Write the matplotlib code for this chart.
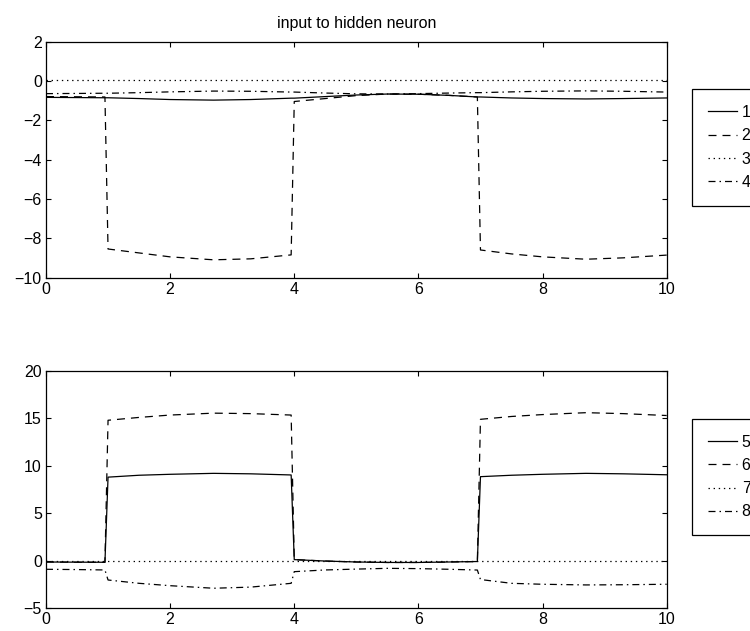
import numpy as np
import matplotlib
matplotlib.use("Agg")
import matplotlib.pyplot as plt

plt.rcParams['font.family'] = ['Liberation Sans', 'DejaVu Sans']
plt.rcParams['font.size'] = 11.5

# time samples (s); pairs like 0.95/1.0 mark the switching instants
t = [0, 0.5, 0.95, 1.0, 1.5, 2.0, 2.7, 3.3, 3.95, 4.0, 4.5,
     5.0, 5.5, 6.0, 6.5, 6.95, 7.0, 7.5, 8.0, 8.7, 9.3, 10.0]

# first hidden layer inputs, neurons 1-4
n1 = [-0.84, -0.85, -0.86, -0.86, -0.90, -0.95, -0.98, -0.95, -0.88, -0.88, -0.80,
      -0.72, -0.67, -0.68, -0.74, -0.82, -0.82, -0.87, -0.90, -0.92, -0.90, -0.87]
n2 = [-0.80, -0.81, -0.82, -8.55, -8.75, -8.95, -9.10, -9.05, -8.85, -1.05, -0.90,
      -0.75, -0.67, -0.68, -0.74, -0.82, -8.60, -8.80, -8.95, -9.07, -9.00, -8.86]
n3 = [0.05] * len(t)
n4 = [-0.65, -0.64, -0.63, -0.63, -0.60, -0.56, -0.52, -0.53, -0.57, -0.57, -0.62,
      -0.66, -0.67, -0.65, -0.62, -0.60, -0.60, -0.56, -0.53, -0.51, -0.53, -0.57]

# neurons 5-8
n5 = [-0.15, -0.17, -0.18, 8.80, 9.00, 9.10, 9.20, 9.15, 9.03, 0.10, -0.05,
      -0.15, -0.20, -0.20, -0.15, -0.10, 8.85, 9.00, 9.10, 9.20, 9.15, 9.05]
n6 = [-0.15, -0.17, -0.18, 14.80, 15.10, 15.35, 15.55, 15.50, 15.35, 0.10, -0.05,
      -0.15, -0.20, -0.20, -0.15, -0.10, 14.90, 15.20, 15.40, 15.60, 15.50, 15.30]
n7 = [0.0] * len(t)
n8 = [-0.92, -0.95, -0.99, -2.05, -2.40, -2.65, -2.92, -2.80, -2.40, -1.17, -0.99,
      -0.90, -0.82, -0.85, -0.92, -1.00, -2.00, -2.40, -2.50, -2.57, -2.55, -2.50]

top_labels = ['1', '2', '3', '4']
bottom_labels = ['5', '6', '7', '8']

# solid, dashed, dotted, dash-dot (dash lengths in linewidth units)
styles = [dict(linestyle='-'),
          dict(linestyle=(0, (6.4, 4.8))),
          dict(linestyle=(0, (1.1, 3.0))),
          dict(linestyle=(0, (5.6, 3.2, 1.2, 3.2)))]

fig = plt.figure(figsize=(7.5, 6.31), dpi=100)
ax1 = fig.add_axes([0.0613, 0.5602, 0.8276, 0.374])
ax2 = fig.add_axes([0.0613, 0.0365, 0.8276, 0.3756])


def draw(ax, series, labels, ylim, yticks):
    for y, lab, st in zip(series, labels, styles):
        ax.plot(t, y, color='black', linewidth=0.9, label=lab, **st)
    ax.set_xlim(0, 10)
    ax.set_ylim(*ylim)
    ax.set_xticks(range(0, 11, 2))
    ax.set_yticks(yticks)
    ax.tick_params(direction='in', top=True, right=True, length=3.5, width=0.8, pad=3)
    for s in ax.spines.values():
        s.set_linewidth(0.9)
    leg = ax.legend(loc='upper left', bbox_to_anchor=(1.041, 0.799), borderaxespad=0,
                    fancybox=False, framealpha=1, edgecolor='black',
                    handlelength=1.8, handletextpad=0.3, labelspacing=0.52,
                    borderpad=1.0)
    leg.get_frame().set_linewidth(0.9)


draw(ax1, [n1, n2, n3, n4], top_labels, (-10, 2), range(-10, 3, 2))
draw(ax2, [n5, n6, n7, n8], bottom_labels, (-5, 20), range(-5, 21, 5))
ax1.set_title('input to hidden neuron', fontsize=11.5, pad=10)

fig.savefig('out.png', dpi=100)
